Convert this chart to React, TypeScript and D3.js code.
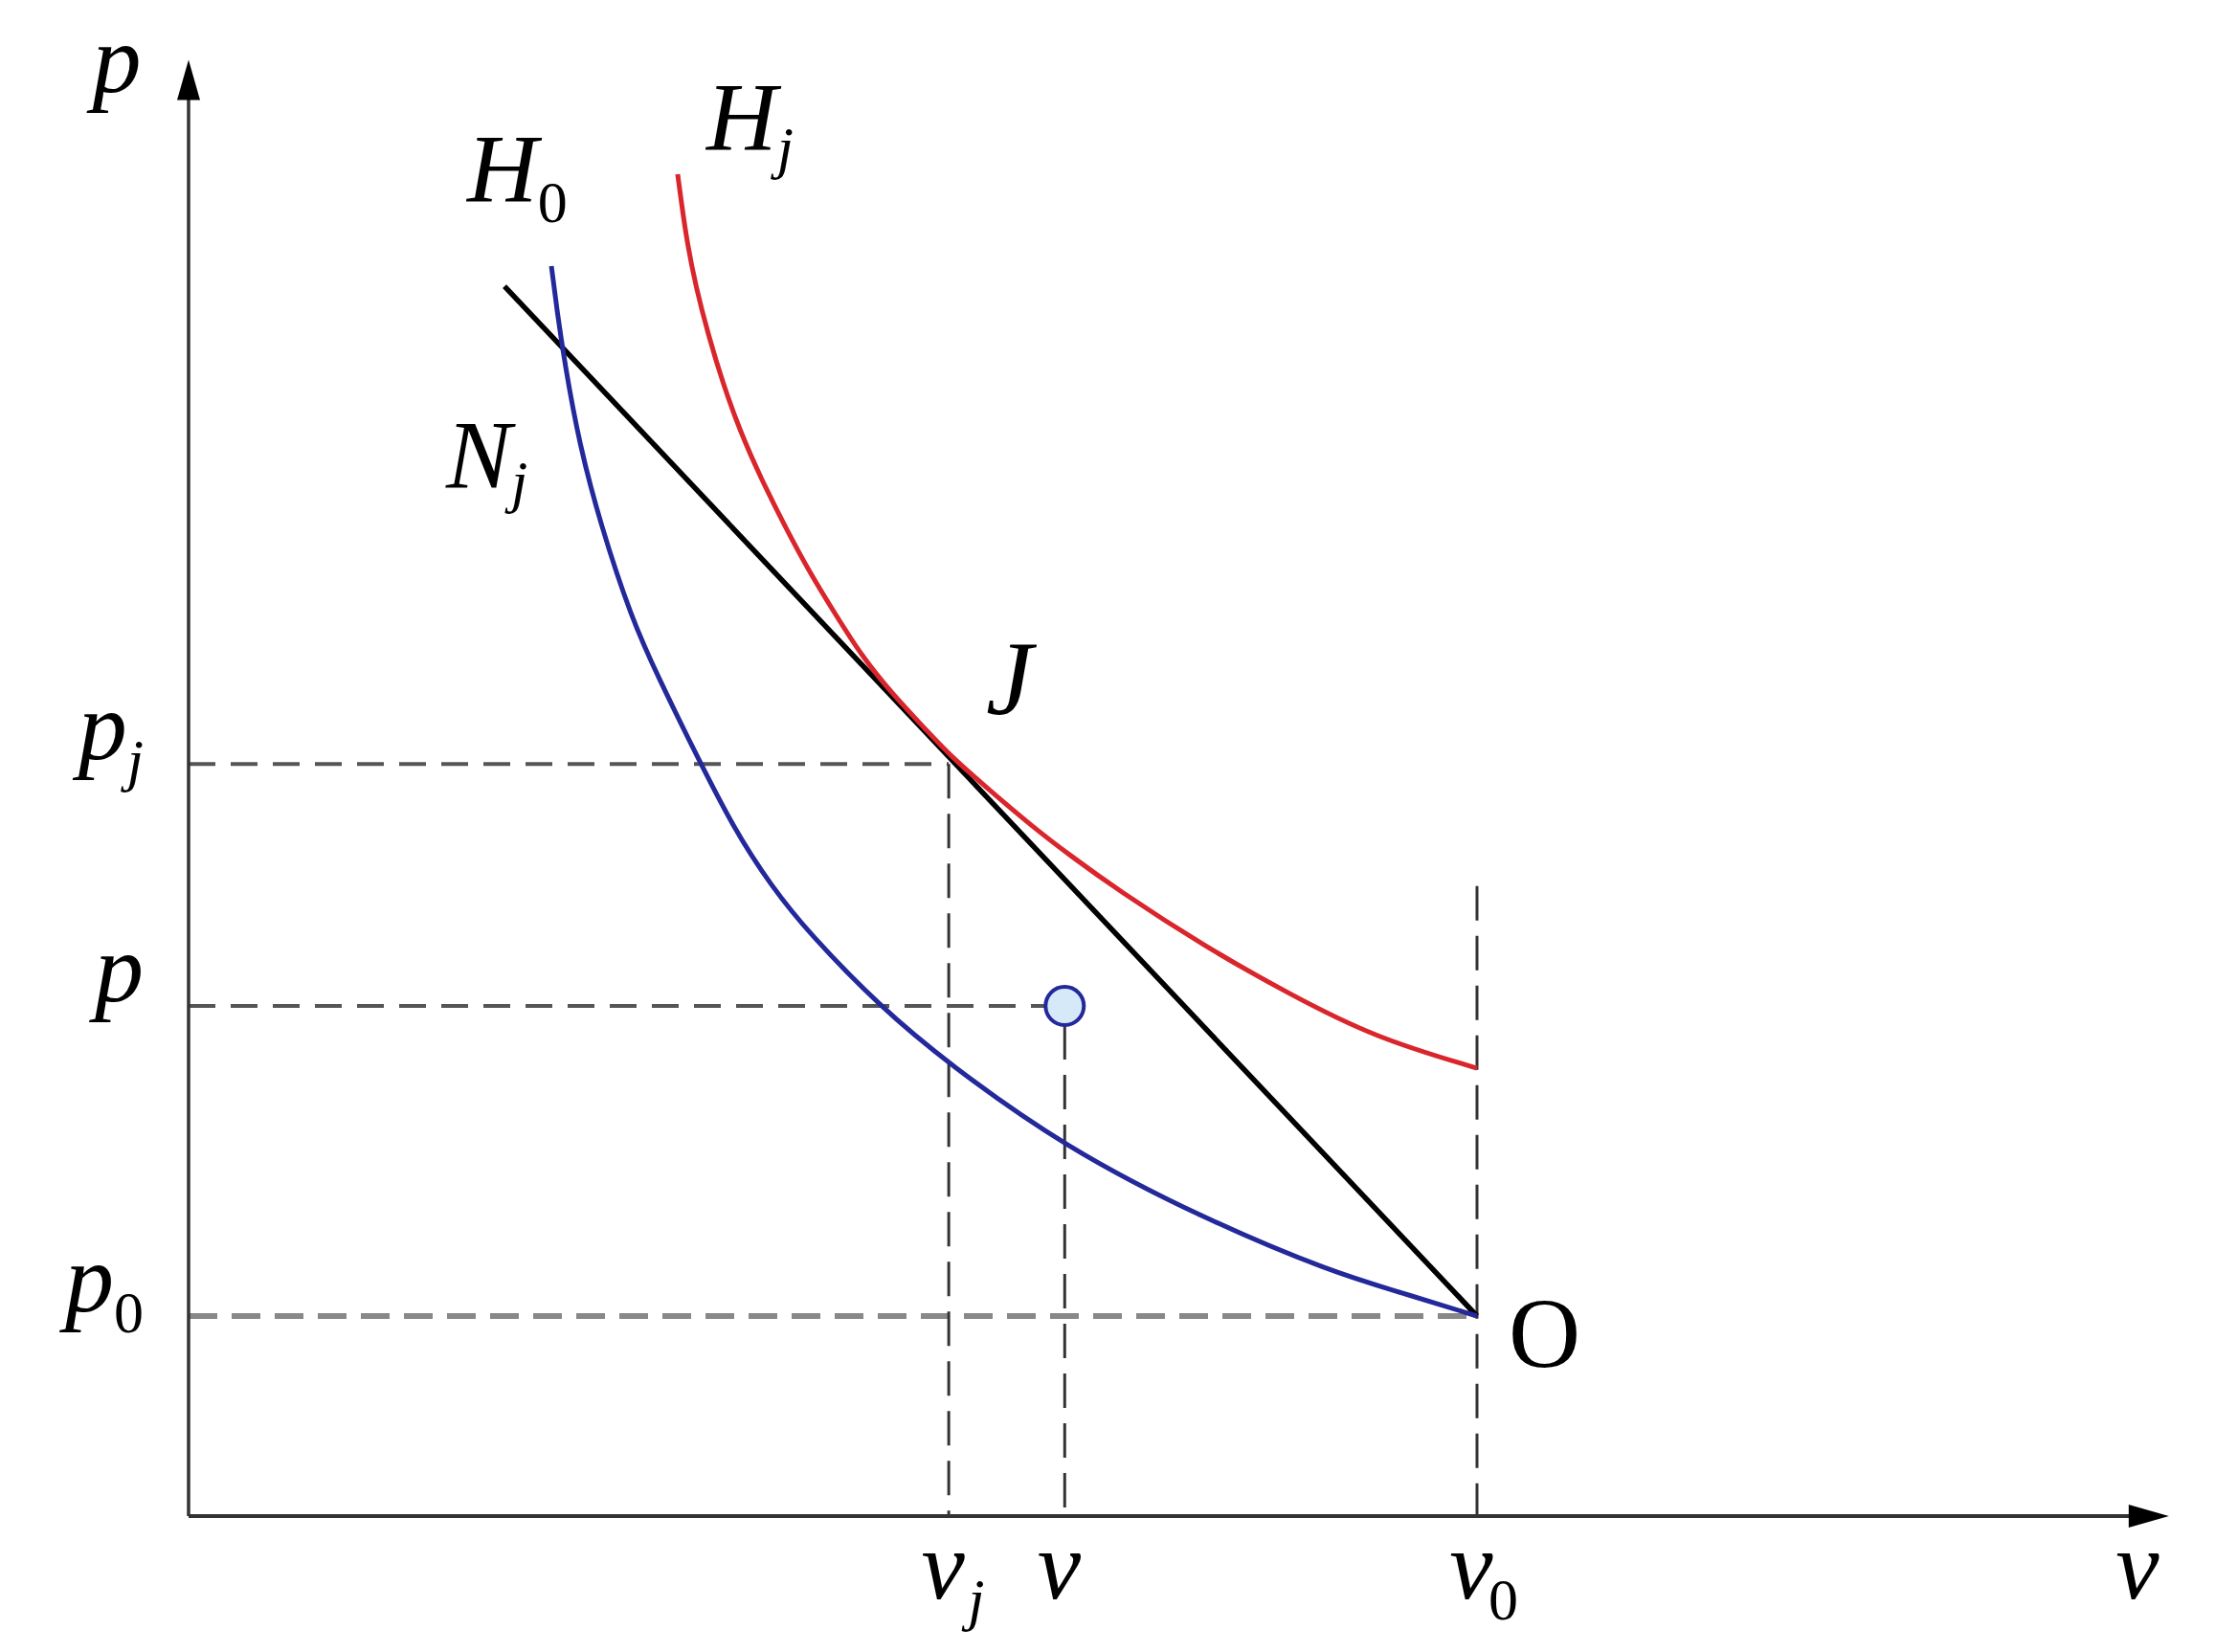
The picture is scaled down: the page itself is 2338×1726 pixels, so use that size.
import * as d3 from "d3";

// values in units of the initial state: v0 = 1, p0 = 1
const hugoniotH0: [number, number][] = [
  [0.2816, 6.249], [0.286, 6.024], [0.292, 5.761], [0.3031, 5.364], [0.3195, 4.962],
  [0.344, 4.483], [0.3648, 4.191], [0.3908, 3.847], [0.4235, 3.431], [0.4525, 3.148],
  [0.4814, 2.914], [0.5371, 2.545], [0.5884, 2.268], [0.6805, 1.842], [0.7875, 1.488],
  [0.8871, 1.22], [0.9398, 1.12], [1.0, 1.0],
];
const hugoniotHj: [number, number][] = [
  [0.3796, 6.708], [0.3863, 6.383], [0.3938, 6.144], [0.4034, 5.904], [0.4146, 5.665],
  [0.4279, 5.426], [0.4443, 5.187], [0.4629, 4.947], [0.4829, 4.708], [0.5022, 4.507],
  [0.5223, 4.301], [0.5468, 4.105], [0.5721, 3.933], [0.5914, 3.799], [0.6211, 3.632],
  [0.6553, 3.445], [0.6835, 3.306], [0.7214, 3.129], [0.7875, 2.852], [0.8536, 2.612],
  [0.9205, 2.392], [1.0, 2.239],
];
const rayleighLine: [number, number][] = [[0.2452, 6.148], [1.0, 1.0]];

const pLevels = [3.76, 2.55, 1.0];
const pSubs = ["j", "", "0"];
const vLevels = [0.59, 0.68, 1.0];
const vSubs = ["j", "", "0"];
const state: [number, number] = [0.68, 2.55];
const v0DashTop = 3.15;
const vMax = 1.537;
const pMax = 7.28;

const W = 2338;
const H = 1726;
const serif = "'Liberation Serif', 'Times New Roman', serif";

const App = () => {
  const x = d3.scaleLinear().domain([0, 1]).range([197, 1543]);
  const y = d3.scaleLinear().domain([0, 1]).range([1584, 1375]);

  // smooth spline through the read-off points
  const line = d3
    .line<[number, number]>()
    .x((d) => x(d[0]))
    .y((d) => y(d[1]))
    .curve(d3.curveBasis);

  const r = 20;
  const [vj, vs, v0] = vLevels;
  const [pj, ps, p0] = pLevels;

  // arrow heads
  const yTip = y(pMax);
  const xTip = x(vMax);
  const ax0 = x(0);
  const ay0 = y(0);

  const hDash = { stroke: "#555", strokeWidth: 4, strokeDasharray: "28 16" };
  const vDash = { stroke: "#333", strokeWidth: 3, strokeDasharray: "36 16" };

  return (
    <svg
      width={W}
      height={H}
      style={{ position: "absolute", left: 0, top: 0, background: "#fff" }}
      fontFamily={serif}
    >
      {/* guide lines */}
      <line x1={ax0} x2={x(vj)} y1={y(pj)} y2={y(pj)} {...hDash} />
      <line x1={ax0} x2={x(vs) - r} y1={y(ps)} y2={y(ps)} {...hDash} />
      <line
        x1={ax0}
        x2={x(v0)}
        y1={y(p0)}
        y2={y(p0)}
        stroke="#888"
        strokeWidth={6}
        strokeDasharray="30 15"
      />
      <line x1={x(vj)} x2={x(vj)} y1={y(pj)} y2={ay0} {...vDash} />
      <line x1={x(vs)} x2={x(vs)} y1={y(ps) + r} y2={ay0} {...vDash} />
      <line x1={x(v0)} x2={x(v0)} y1={y(v0DashTop)} y2={ay0} {...vDash} />

      {/* curves */}
      <path d={line(rayleighLine) || ""} fill="none" stroke="#000" strokeWidth={5.5} />
      <path d={line(hugoniotH0) || ""} fill="none" stroke="#23299a" strokeWidth={5} />
      <path d={line(hugoniotHj) || ""} fill="none" stroke="#d9262c" strokeWidth={5} />

      <circle cx={x(state[0])} cy={y(state[1])} r={r} fill="#d5e9f8" stroke="#23299a" strokeWidth={4} />

      {/* axes */}
      <line x1={ax0} x2={ax0} y1={ay0} y2={yTip + 30} stroke="#333" strokeWidth={3.5} />
      <line x1={ax0} x2={xTip - 30} y1={ay0} y2={ay0} stroke="#333" strokeWidth={4} />
      <polygon points={`${ax0},${yTip} ${ax0 - 12},${yTip + 42} ${ax0 + 12},${yTip + 42}`} fill="#000" />
      <polygon points={`${xTip},${ay0} ${xTip - 42},${ay0 - 12} ${xTip - 42},${ay0 + 12}`} fill="#000" />

      {/* axis names */}
      <text x={122} y={96} fontSize={102} fontStyle="italic" textAnchor="middle">p</text>
      <text x={2233} y={1670} fontSize={102} fontStyle="italic" textAnchor="middle">v</text>

      {/* p levels */}
      {pLevels.map((p, i) => (
        <text key={"p" + i} x={150} y={y(p) - 5} fontSize={102} textAnchor="end" fontStyle="italic">
          p
          {pSubs[i] && (
            <tspan fontSize={62} dy={22} fontStyle={pSubs[i] === "0" ? "normal" : "italic"}>
              {pSubs[i]}
            </tspan>
          )}
        </text>
      ))}

      {/* v levels */}
      {vLevels.map((v, i) => (
        <g key={"v" + i}>
          <text x={x(v) - 6} y={1670} fontSize={102} fontStyle="italic" textAnchor="middle">v</text>
          {vSubs[i] && (
            <text
              x={x(v) + (vSubs[i] === "0" ? 12 : 20)}
              y={1692}
              fontSize={62}
              fontStyle={vSubs[i] === "0" ? "normal" : "italic"}
            >
              {vSubs[i]}
            </text>
          )}
        </g>
      ))}

      {/* curve names */}
      <text x={488} y={211} fontSize={102} fontStyle="italic">
        H<tspan fontSize={62} fontStyle="normal" dy={21}>0</tspan>
      </text>
      <text x={738} y={157} fontSize={102} fontStyle="italic">
        H<tspan fontSize={62} dy={18}>j</tspan>
      </text>
      <text x={466} y={510} fontSize={102} fontStyle="italic">
        N<tspan fontSize={62} dy={14}>j</tspan>
      </text>
      <text x={1030} y={746} fontSize={110} fontStyle="italic">J</text>
      <text x={1576} y={1428} fontSize={104}>O</text>
    </svg>
  );
};

export default App;
